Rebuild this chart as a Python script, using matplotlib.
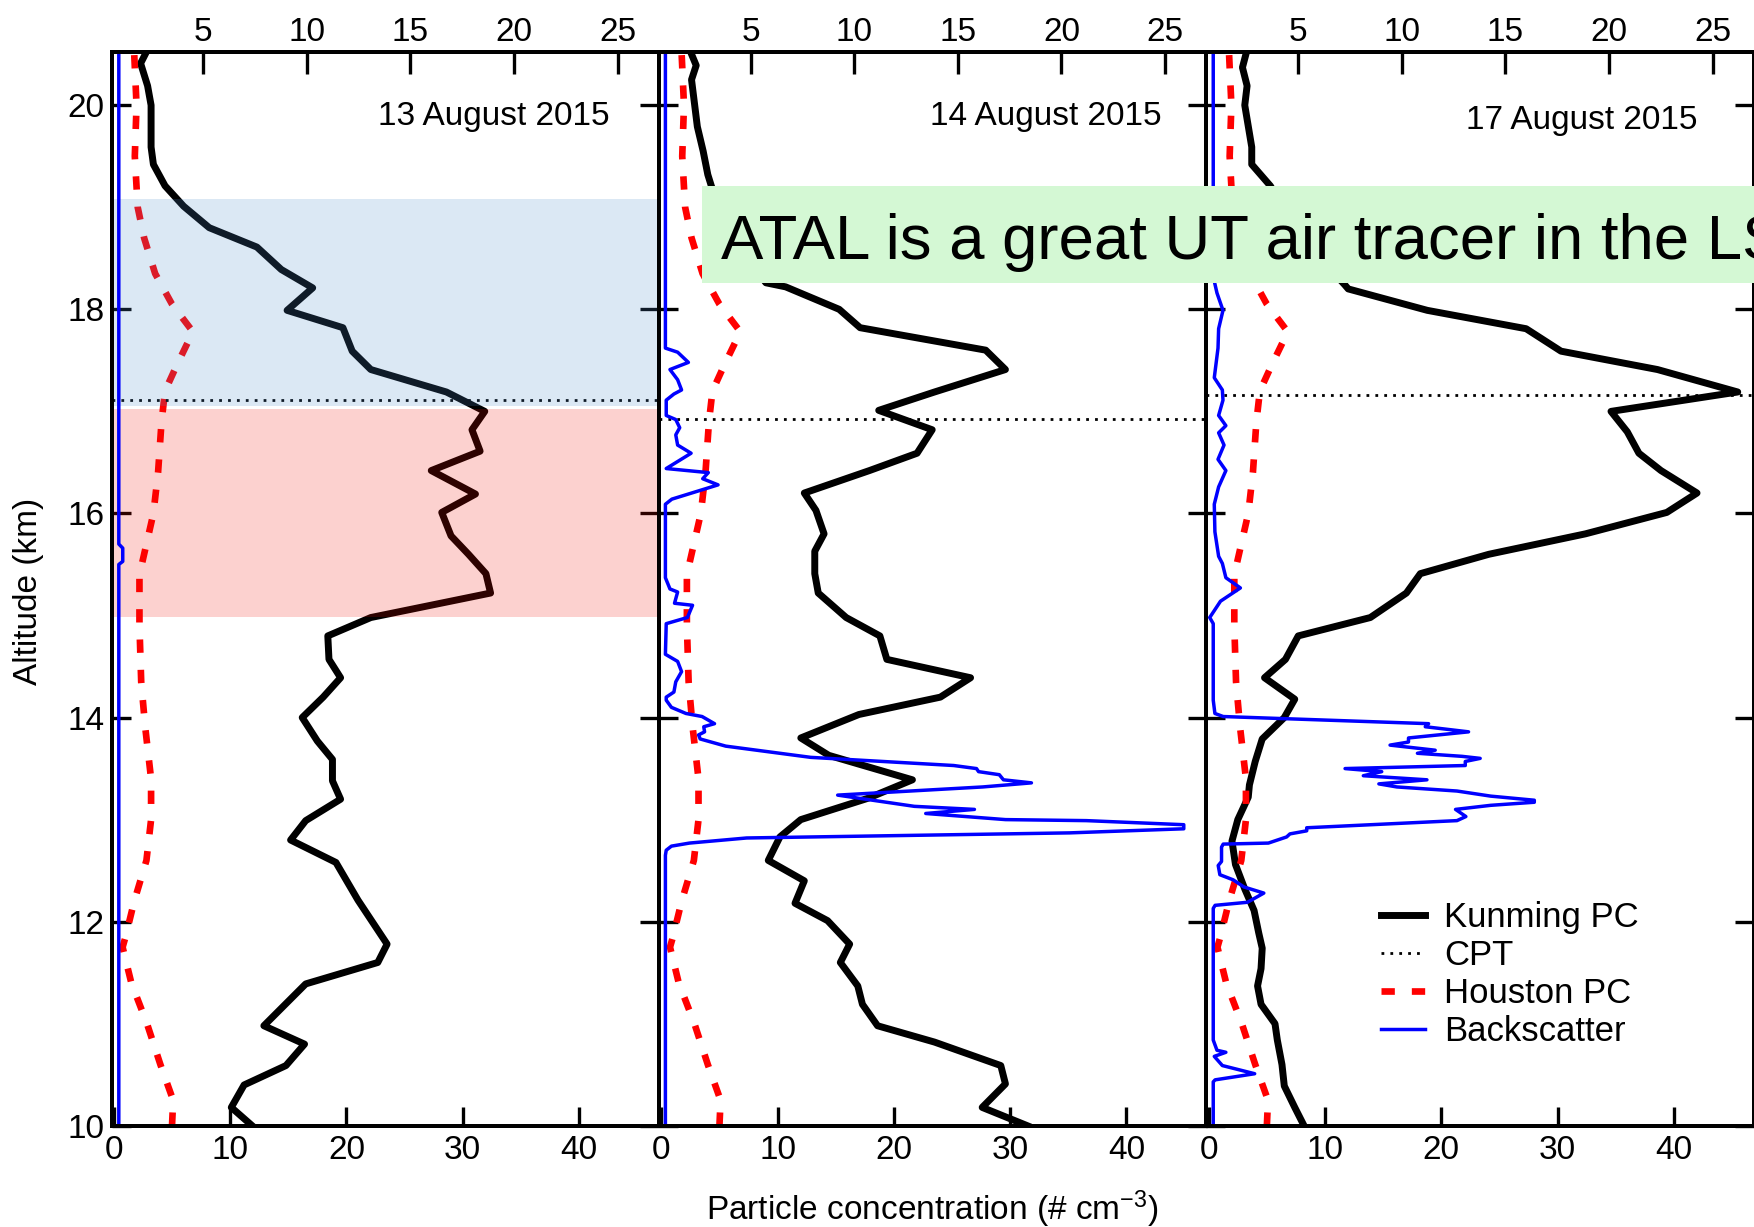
import matplotlib
matplotlib.use("Agg")
import matplotlib.pyplot as plt
from matplotlib.lines import Line2D
from matplotlib.patches import Rectangle

plt.rcParams['font.family'] = ['Liberation Sans', 'DejaVu Sans']
plt.rcParams['mathtext.fontset'] = 'custom'
plt.rcParams['mathtext.rm'] = 'Liberation Sans'
plt.rcParams['mathtext.it'] = 'Liberation Sans:italic'

# |====| data section
dates = ["13 August 2015", "14 August 2015", "17 August 2015"]
cpt_alt = [17.11, 16.93, 17.16]

# Kunming particle concentration (# cm-3) vs altitude (km)
k13_alt = [10.0, 10.18, 10.40, 10.59, 10.80, 10.98, 11.39, 11.60, 11.78, 12.21, 12.58, 12.80, 12.99,
           13.20, 13.38, 13.59, 13.77, 14.0, 14.20, 14.39, 14.57, 14.80, 14.98, 15.22, 15.41, 15.60,
           15.78, 16.01, 16.19, 16.42, 16.61, 16.82, 17.0, 17.19, 17.41, 17.59, 17.82, 17.99, 18.21,
           18.39, 18.61, 18.80, 19.01, 19.21, 19.42, 19.59, 20.0, 20.19, 20.41, 20.50]
k13_pc = [11.9, 10.1, 11.2, 14.8, 16.4, 12.9, 16.5, 22.7, 23.5, 21.0, 19.1, 15.2, 16.5,
          19.5, 18.8, 18.8, 17.5, 16.2, 18.0, 19.5, 18.5, 18.4, 22.1, 32.4, 32.0, 30.5,
          29.0, 28.2, 31.1, 27.3, 31.5, 30.8, 31.9, 28.6, 22.1, 20.5, 19.7, 14.9, 17.1,
          14.4, 12.3, 8.2, 6.0, 4.4, 3.4, 3.2, 3.2, 2.9, 2.3, 2.7]

k14_alt = [10.0, 10.18, 10.41, 10.59, 10.82, 10.98, 11.19, 11.37, 11.60, 11.78, 12.01, 12.18, 12.40,
           12.60, 12.83, 13.0, 13.21, 13.39, 13.63, 13.80, 14.03, 14.20, 14.39, 14.57, 14.80, 14.98,
           15.22, 15.41, 15.63, 15.80, 16.03, 16.20, 16.42, 16.59, 16.82, 17.01, 17.19, 17.41, 17.60,
           17.82, 18.0, 18.22, 18.26, 18.7, 19.21, 19.32, 19.55, 19.79, 20.25, 20.39, 20.5]
k14_pc = [31.5, 27.6, 29.6, 29.2, 23.5, 18.6, 17.3, 16.9, 15.4, 16.2, 14.3, 11.5, 12.3,
          9.2, 10.2, 12.0, 17.8, 21.6, 14.4, 12.0, 17.0, 24.0, 26.6, 19.4, 18.8, 15.9,
          13.5, 13.2, 13.2, 14.0, 13.3, 12.3, 17.9, 22.0, 23.3, 18.7, 23.5, 29.6, 27.9,
          17.1, 15.3, 10.7, 9.0, 6.0, 4.3, 4.0, 3.6, 3.1, 2.6, 3.0, 2.6]

k17_alt = [10.0, 10.18, 10.39, 10.60, 10.84, 11.0, 11.19, 11.37, 11.54, 11.74, 11.89, 12.11, 12.32,
           12.56, 12.79, 13.0, 13.22, 13.34, 13.57, 13.79, 14.0, 14.18, 14.39, 14.57, 14.80, 14.98,
           15.22, 15.41, 15.60, 15.80, 16.01, 16.20, 16.42, 16.59, 16.80, 17.0, 17.19, 17.41, 17.59,
           17.81, 17.99, 18.20, 18.24, 18.7, 19.21, 19.42, 19.59, 20.0, 20.19, 20.37, 20.5]
k17_pc = [8.2, 7.4, 6.5, 6.3, 5.9, 5.7, 4.5, 4.2, 4.5, 4.6, 4.3, 3.9, 3.1,
          2.3, 2.0, 2.5, 3.4, 3.5, 4.0, 4.6, 6.5, 7.4, 4.8, 6.6, 7.7, 13.9,
          17.0, 18.2, 24.1, 32.4, 39.4, 42.0, 38.9, 37.0, 36.0, 34.6, 45.5, 38.6, 30.3,
          27.3, 18.8, 12.0, 11.7, 8.0, 5.3, 3.7, 3.7, 3.1, 3.3, 2.9, 3.2]

# Houston particle concentration (same profile in every panel)
hou_alt = [10.0, 10.25, 10.6, 11.0, 11.4, 11.75, 11.85, 12.2, 12.6, 13.0, 13.4, 13.9, 14.35, 14.9,
           15.4, 16.0, 16.4, 16.9, 17.2, 17.45, 17.78, 18.05, 18.35, 18.7, 19.0, 19.5, 20.0, 20.5]
hou_pc = [5.0, 5.1, 4.0, 2.85, 1.5, 0.75, 1.0, 1.75, 2.8, 3.2, 3.2, 2.7, 2.35, 2.2,
          2.2, 3.4, 3.8, 4.1, 4.4, 5.4, 6.8, 5.0, 3.55, 2.6, 2.05, 1.8, 1.95, 1.75]

# Backscatter ratio (top axis)
b13_alt = [10.0, 15.50, 15.53, 15.66, 15.70, 20.5]
b13_val = [0.93, 0.93, 1.12, 1.12, 0.93, 0.93]

b14_alt = [10.0, 12.65, 12.70, 12.74, 12.77, 12.82, 12.87, 12.91, 12.95, 12.99, 13.0, 13.06, 13.10,
           13.13, 13.24, 13.32, 13.36, 13.39, 13.44, 13.47, 13.50, 13.53, 13.61, 13.72, 13.79, 13.83,
           13.86, 13.91, 13.94, 14.01, 14.04, 14.10, 14.17, 14.20, 14.25, 14.35, 14.45, 14.55, 14.62,
           14.92, 14.98, 15.10, 15.12, 15.23, 15.26, 15.37, 16.09, 16.14, 16.28, 16.34, 16.40, 16.44,
           16.59, 16.67, 16.77, 16.84, 16.92, 16.96, 17.11, 17.17, 17.21, 17.31, 17.41, 17.48, 17.58,
           17.62, 20.5]
b14_val = [0.89, 0.89, 0.93, 1.18, 2.05, 4.81, 20.4, 25.9, 25.9, 21.2, 17.3, 13.45, 15.8,
           12.9, 9.2, 16.2, 18.55, 17.2, 17.0, 16.0, 15.9, 14.8, 7.9, 3.8, 2.57, 2.49,
           2.78, 2.74, 3.26, 2.66, 1.88, 1.18, 0.93, 0.93, 1.30, 1.39, 1.67, 1.48, 0.89,
           0.93, 1.95, 2.2, 1.33, 1.48, 1.11, 0.89, 0.89, 1.2, 3.43, 2.69, 2.96, 0.93,
           2.13, 1.48, 1.39, 1.58, 1.39, 0.93, 0.93, 1.30, 1.67, 1.48, 1.11, 2.0, 1.48,
           0.89, 0.89]

b17_alt = [10.0, 10.43, 10.45, 10.51, 10.59, 10.68, 10.72, 10.74, 10.84, 12.13, 12.16, 12.19, 12.28,
           12.34, 12.41, 12.46, 12.55, 12.59, 12.73, 12.76, 12.77, 12.83, 12.86, 12.89, 12.92, 12.99,
           13.03, 13.10, 13.14, 13.17, 13.19, 13.23, 13.28, 13.32, 13.35, 13.39, 13.43, 13.47, 13.50,
           13.53, 13.57, 13.60, 13.62, 13.65, 13.68, 13.73, 13.76, 13.80, 13.86, 13.91, 13.94, 14.01,
           14.04, 14.17, 14.92, 14.98, 15.14, 15.27, 15.37, 15.51, 15.58, 15.82, 16.09, 16.26, 16.42,
           16.53, 16.67, 16.79, 16.86, 16.96, 17.11, 17.21, 17.33, 17.62, 17.81, 17.99, 18.16, 18.32,
           20.5]
b17_val = [0.91, 0.91, 1.0, 2.91, 1.35, 0.96, 1.52, 1.09, 0.91, 0.91, 1.0, 2.56, 3.35,
           2.39, 1.87, 1.23, 1.15, 1.31, 1.31, 1.39, 3.57, 4.45, 4.61, 5.42, 5.42, 12.67,
           13.1, 12.6, 14.3, 16.4, 16.4, 14.3, 12.67, 9.77, 8.9, 11.22, 8.15, 9.04, 7.27,
           13.07, 13.07, 13.79, 12.91, 10.76, 11.62, 9.44, 10.33, 10.33, 13.23, 11.14, 11.3, 1.39,
           0.99, 0.91, 0.91, 0.74, 1.26, 2.22, 1.52, 1.35, 1.17, 0.99, 0.96, 1.17, 1.52,
           1.14, 1.43, 1.17, 1.52, 1.17, 1.38, 1.35, 0.96, 1.14, 1.17, 1.38, 1.09, 0.91,
           0.91]

kun_alt = [k13_alt, k14_alt, k17_alt]
kun_pc = [k13_pc, k14_pc, k17_pc]
bs_alt = [b13_alt, b14_alt, b17_alt]
bs_val = [b13_val, b14_val, b17_val]

# |====| plot section
fig = plt.figure(figsize=(17.54, 12.27), dpi=100)

lefts = [0.0636, 0.3757, 0.6878]
date_pos = [(0.909, 0.940), (0.918, 0.940), (0.897, 0.936)]
red_dash = (2.0, 2.55)
dot_dash = (1, 2.2)

for i in range(3):
    ax = fig.add_axes([lefts[i], 0.0825, 0.3122, 0.875])
    axt = ax.twiny()

    ax.plot(kun_pc[i], kun_alt[i], color='black', lw=5.0)
    ax.plot(hou_pc, hou_alt, color='red', lw=4.8, dashes=red_dash)
    ax.axhline(cpt_alt[i], color='black', lw=2.0, dashes=dot_dash)
    axt.plot(bs_val[i], bs_alt[i], color='blue', lw=2.5)

    if i == 0:
        ax.axhspan(14.99, 17.02, color=(0.95, 0.05, 0.0), alpha=0.19, lw=0, zorder=3)
        ax.axhspan(17.05, 19.08, color=(0.3, 0.55, 0.8), alpha=0.2, lw=0, zorder=3)

    ax.set_xlim(-0.2, 46.9)
    axt.set_xlim(0.58, 27.0)
    ax.set_ylim(10, 20.52)
    ax.set_xticks([0, 10, 20, 30, 40])
    axt.set_xticks([5, 10, 15, 20, 25])
    ax.set_yticks([10, 12, 14, 16, 18, 20])

    ax.tick_params(axis='x', direction='in', length=14, width=2.4, labelsize=24, pad=7)
    ax.tick_params(axis='y', direction='in', length=14, width=2.4, labelsize=24, pad=5,
                   left=True, right=True, labelleft=(i == 0))
    axt.tick_params(axis='x', direction='in', length=15.5, width=2.4, labelsize=24, pad=3)
    for a in (ax, axt):
        for s in a.spines.values():
            s.set_linewidth(2.8)

    ax.text(date_pos[i][0], date_pos[i][1], dates[i], transform=ax.transAxes,
            ha='right', va='center', fontsize=24)

    if i == 2:
        handles = [Line2D([], [], color='black', lw=5.0),
                   Line2D([], [], color='black', lw=2.0, dashes=dot_dash),
                   Line2D([], [], color='red', lw=4.8, dashes=red_dash),
                   Line2D([], [], color='blue', lw=2.5)]
        ax.legend(handles, ["Kunming PC", "CPT", "Houston PC", "Backscatter"],
                  loc='upper left', bbox_to_anchor=(0.319, 0.209), frameon=False,
                  fontsize=25, borderpad=0, borderaxespad=0, handlelength=1.26,
                  handletextpad=0.56, labelspacing=0.14)

fig.text(0.0164, 0.518, "Altitude (km)", rotation=90, ha='center', va='center', fontsize=24)
fig.text(0.5317, 0.0057, r"Particle concentration (# cm$^{-3}$)", ha='center', va='baseline',
         fontsize=24)

# banner
fig.add_artist(Rectangle((0.4005, 0.7696), 0.61, 0.0788, transform=fig.transFigure,
                         facecolor='#d4f8d4', edgecolor='none', zorder=10))
fig.text(0.411, 0.7889, "ATAL is a great UT air tracer in the LS", fontsize=45.7,
         ha='left', va='baseline', zorder=11)

fig.savefig("out.png", dpi=100)
